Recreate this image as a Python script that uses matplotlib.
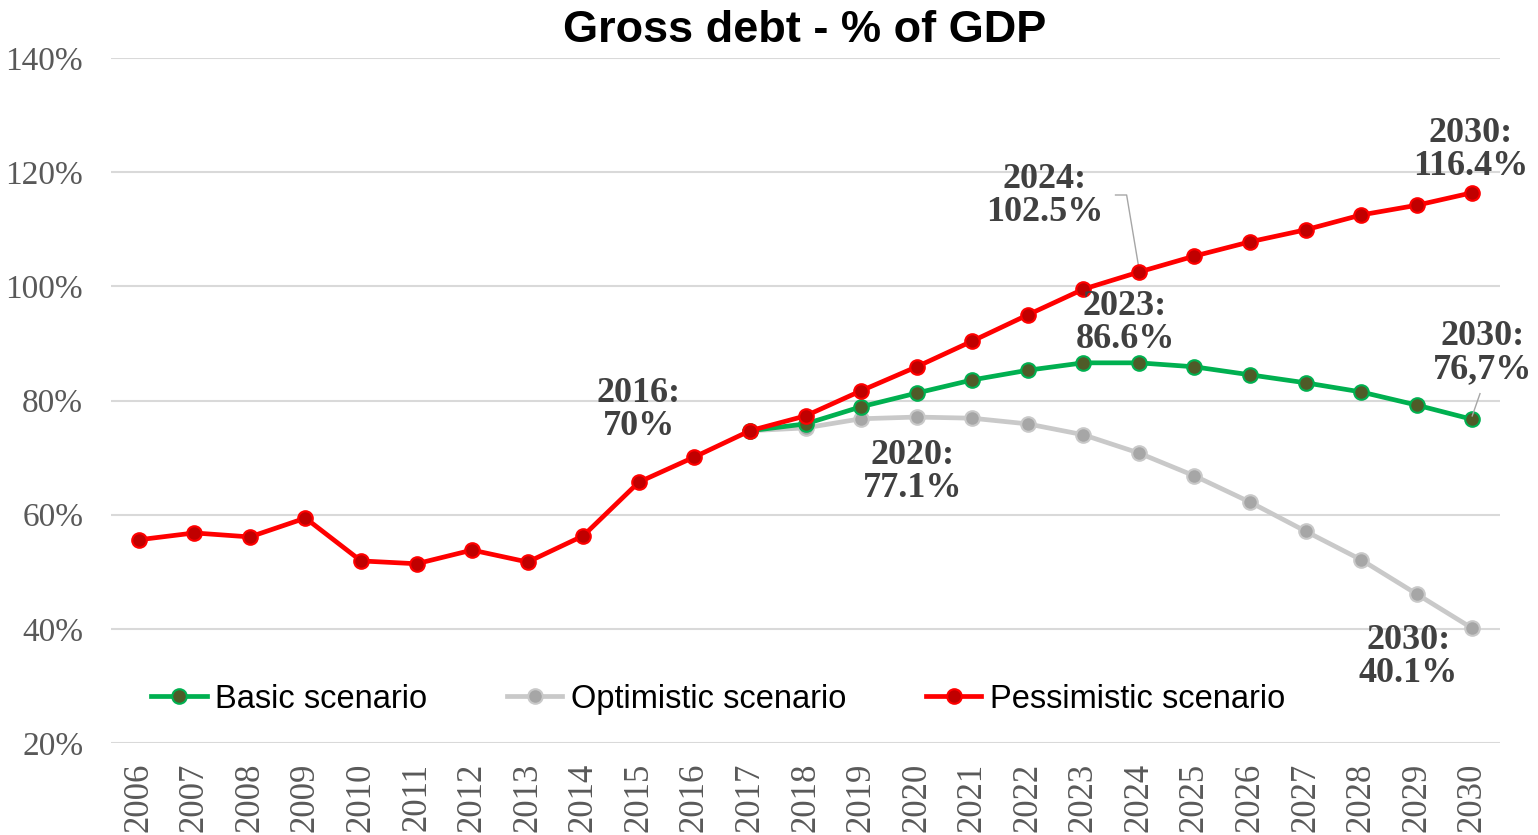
import numpy as np
import matplotlib
matplotlib.use('Agg')
from matplotlib import pyplot as plt

years = list(range(2006, 2031))
nan = np.nan

# values (% of GDP)
pessimistic = [55.6, 56.8, 56.1, 59.4, 51.9, 51.4, 53.8, 51.7, 56.3, 65.7, 70.1, 74.7,
               77.3, 81.7, 85.9, 90.4, 95.0, 99.5, 102.5, 105.3, 107.8, 109.9, 112.5, 114.2, 116.4]
basic = [nan] * 11 + [74.7, 75.9, 78.9, 81.3, 83.6, 85.3, 86.6, 86.6, 85.9, 84.5, 83.1, 81.5, 79.2, 76.7]
optimistic = [nan] * 11 + [74.7, 75.2, 76.8, 77.1, 76.9, 75.9, 74.0, 70.8, 66.8, 62.2, 57.1, 52.1, 46.1, 40.1]

yticks = [20, 40, 60, 80, 100, 120, 140]

# label text, label position (x index, y value)
labels = [
    ('2016:\n70%', 9.0, 78.3),
    ('2020:\n77.1%', 13.92, 67.5),
    ('2023:\n86.6%', 17.75, 93.6),
    ('2024:\n102.5%', 16.31, 115.8),
    ('2030:\n116.4%', 23.98, 123.9),
    ('2030:\n76,7%', 24.18, 88.3),
    ('2030:\n40.1%', 22.85, 35.1),
]

fig = plt.figure(figsize=(15.38, 8.35), dpi=100)
ax = fig.add_axes([111 / 1538, 1 - 743 / 835, 1389 / 1538, 685 / 835])

x = np.arange(len(years))

ax.plot(x, optimistic, color='#C9C9C9', lw=3.4, marker='o', ms=10.5,
        mfc='#A6A6A6', mec='#C9C9C9', mew=1.5, label='Optimistic scenario', zorder=3)
ax.plot(x, basic, color='#00B050', lw=3.4, marker='o', ms=10.5,
        mfc='#4F5B28', mec='#00B050', mew=1.5, label='Basic scenario', zorder=4)
ax.plot(x, pessimistic, color='#FF0000', lw=3.4, marker='o', ms=10.5,
        mfc='#C00000', mec='#FF0000', mew=1.5, label='Pessimistic scenario', zorder=5)

ax.set_xlim(-0.5, len(years) - 0.5)
ax.set_ylim(20, 140)
ax.set_yticks(yticks)
ax.set_yticklabels([f'{v}%' for v in yticks], family='Liberation Serif', fontsize=24, color='#595959')
ax.set_xticks(x)
ax.set_xticklabels([str(y) for y in years], rotation=90, family='Liberation Serif',
                   fontsize=25, color='#595959')
ax.tick_params(axis='x', length=0, pad=14)
ax.tick_params(axis='y', length=0, pad=20)
ax.grid(axis='y', color='#D9D9D9', lw=1.5)
ax.set_axisbelow(True)
for s in ax.spines.values():
    s.set_visible(False)

for txt, lx, ly in labels:
    ax.text(lx, ly, txt, ha='center', va='center', family='Liberation Serif',
            fontweight='bold', fontsize=26, color='#404040', linespacing=1.0, zorder=6)

# leader lines
ax.plot([13.95, 14.0], [69.6, 71.2], color='#A6A6A6', lw=1, zorder=2)
ax.plot([17.58, 17.78, 18.0], [116.0, 116.0, 103.2], color='#A6A6A6', lw=1, zorder=2)
ax.plot([24.14, 24.0], [81.2, 77.3], color='#A6A6A6', lw=1, zorder=6)

handles, names = ax.get_legend_handles_labels()
order = [1, 0, 2]
ax.legend([handles[i] for i in order], [names[i] for i in order], ncol=3,
          loc='center', bbox_to_anchor=(0.437, 0.064), frameon=False,
          prop={'family': 'Liberation Sans', 'size': 23.5},
          handlelength=1.7, handletextpad=0.25, columnspacing=2.45)

fig.text(805 / 1538, 1 - 30 / 835, 'Gross debt - % of GDP', ha='center', va='center',
         family='Liberation Sans', fontweight='bold', fontsize=32.5)

fig.savefig('out.png', dpi=100)
